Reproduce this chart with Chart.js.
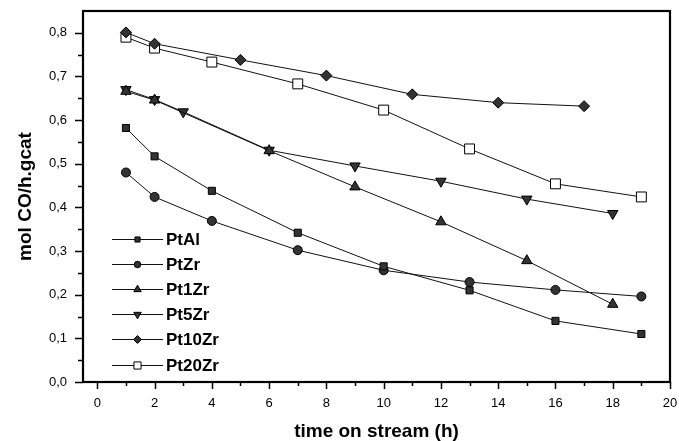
<!DOCTYPE html>
<html>
<head>
<meta charset="utf-8">
<script src="https://cdn.jsdelivr.net/npm/chart.js@4.4.1/dist/chart.umd.min.js"></script>
<style>
  html, body { margin: 0; padding: 0; background: #fff; }
  #wrap { width: 679px; height: 441px; }
</style>
</head>
<body>
<div id="wrap"><canvas id="c" width="679" height="441"></canvas></div>
<script>
// Activity versus time on stream for each catalyst
const seriesNames = ['PtAl', 'PtZr', 'Pt1Zr', 'Pt5Zr', 'Pt10Zr', 'Pt20Zr'];

const hoursPtAl   = [1, 2, 4, 7, 10, 13, 16, 19];
const ptAl        = [0.582, 0.517, 0.438, 0.342, 0.265, 0.210, 0.140, 0.110];

const hoursPtZr   = [1, 2, 4, 7, 10, 13, 16, 19];
const ptZr        = [0.480, 0.424, 0.369, 0.302, 0.256, 0.229, 0.211, 0.196];

const hoursPt1Zr  = [1, 2, 6, 9, 12, 15, 18];
const pt1Zr       = [0.666, 0.646, 0.530, 0.447, 0.367, 0.278, 0.178];

const hoursPt5Zr  = [1, 2, 3, 6, 9, 12, 15, 18];
const pt5Zr       = [0.670, 0.647, 0.619, 0.531, 0.495, 0.460, 0.419, 0.386];

const hoursPt10Zr = [1, 2, 5, 8, 11, 14, 17];
const pt10Zr      = [0.801, 0.775, 0.738, 0.702, 0.659, 0.640, 0.632];

const hoursPt20Zr = [1, 2, 4, 7, 10, 13, 16, 19];
const pt20Zr      = [0.790, 0.765, 0.733, 0.683, 0.623, 0.534, 0.454, 0.424];

const xTickValues = [0, 2, 4, 6, 8, 10, 12, 14, 16, 18, 20];
const xMinorValues = [1, 3, 5, 7, 9, 11, 13, 15, 17, 19];
const yTickValues = [0, 0.1, 0.2, 0.3, 0.4, 0.5, 0.6, 0.7, 0.8];
const yMinorValues = [0.05, 0.15, 0.25, 0.35, 0.45, 0.55, 0.65, 0.75];

const xTitle = 'time on stream (h)';
const yTitle = 'mol CO/h.gcat';

function pairs(xs, ys) { return xs.map((x, i) => ({ x: x, y: ys[i] })); }

const LINE = '#111';
const MARK = '#333';

const styles = [
  { pointStyle: 'rect',     radius: 5,   rotation: 0,   fill: MARK },
  { pointStyle: 'circle',   radius: 4.5, rotation: 0,   fill: MARK },
  { pointStyle: 'triangle', radius: 6,   rotation: 0,   fill: MARK },
  { pointStyle: 'triangle', radius: 6,   rotation: 180, fill: MARK },
  { pointStyle: 'rectRot',  radius: 5.5, rotation: 0,   fill: MARK },
  { pointStyle: 'rect',     radius: 7,   rotation: 0,   fill: '#fff' }
];

const seriesData = [
  pairs(hoursPtAl, ptAl),
  pairs(hoursPtZr, ptZr),
  pairs(hoursPt1Zr, pt1Zr),
  pairs(hoursPt5Zr, pt5Zr),
  pairs(hoursPt10Zr, pt10Zr),
  pairs(hoursPt20Zr, pt20Zr)
];

const datasets = seriesNames.map((name, i) => ({
  label: name,
  data: seriesData[i],
  borderColor: LINE,
  borderWidth: 1,
  pointStyle: styles[i].pointStyle,
  pointRadius: styles[i].radius,
  pointRotation: styles[i].rotation,
  pointBackgroundColor: styles[i].fill,
  pointBorderColor: '#000',
  pointBorderWidth: 1,
  tension: 0,
  fill: false
}));

// Frame, outward ticks (major + minor) and the inline legend
const framePlugin = {
  id: 'frameAndTicks',
  afterDraw(chart) {
    const { ctx, chartArea: a, scales: { x, y } } = chart;
    ctx.save();
    ctx.strokeStyle = '#000';
    ctx.lineWidth = 1.5;
    ctx.beginPath();
    xTickValues.forEach(v => {
      const px = Math.round(x.getPixelForValue(v)) + 0.5;
      ctx.moveTo(px, a.bottom); ctx.lineTo(px, a.bottom + 7);
    });
    xMinorValues.forEach(v => {
      const px = Math.round(x.getPixelForValue(v)) + 0.5;
      ctx.moveTo(px, a.bottom); ctx.lineTo(px, a.bottom + 4);
    });
    yTickValues.forEach(v => {
      const py = Math.round(y.getPixelForValue(v)) + 0.5;
      ctx.moveTo(a.left, py); ctx.lineTo(a.left - 8, py);
    });
    yMinorValues.forEach(v => {
      const py = Math.round(y.getPixelForValue(v)) + 0.5;
      ctx.moveTo(a.left, py); ctx.lineTo(a.left - 5, py);
    });
    ctx.stroke();

    ctx.lineWidth = 2.2;
    ctx.strokeRect(a.left, a.top, a.right - a.left, a.bottom - a.top);

    // legend: line with marker, then the series name
    const lx0 = a.left + 29, lx1 = a.left + 80, ly0 = a.top + 228, step = 25.1;
    chart.data.datasets.forEach((ds, i) => {
      const ly = Math.round(ly0 + i * step) + 0.5;
      ctx.strokeStyle = LINE;
      ctx.lineWidth = 1.2;
      ctx.beginPath();
      ctx.moveTo(lx0, ly); ctx.lineTo(lx1, ly);
      ctx.stroke();
      ctx.fillStyle = ds.pointBackgroundColor;
      ctx.strokeStyle = '#000';
      ctx.lineWidth = 1;
      Chart.helpers.drawPoint(ctx, {
        pointStyle: ds.pointStyle,
        rotation: ds.pointRotation,
        radius: ds.pointRadius * 0.72,
        borderWidth: 1
      }, (lx0 + lx1) / 2, ly);
      ctx.fillStyle = '#000';
      ctx.font = 'bold 17px "Liberation Sans", Arial, sans-serif';
      ctx.textAlign = 'left';
      ctx.textBaseline = 'middle';
      ctx.fillText(ds.label, lx1 + 3, ly + 1);
    });
    ctx.restore();
  }
};

new Chart(document.getElementById('c'), {
  type: 'line',
  data: { datasets: datasets },
  plugins: [framePlugin],
  options: {
    responsive: false,
    animation: false,
    events: [],
    layout: { padding: { top: 11, right: 9, left: 0, bottom: 0 } },
    plugins: { legend: { display: false }, tooltip: { enabled: false } },
    scales: {
      x: {
        type: 'linear',
        min: -0.5,
        max: 20,
        afterBuildTicks: s => { s.ticks = xTickValues.map(v => ({ value: v })); },
        afterFit: s => { s.height = 59; s.paddingLeft = 0; s.paddingRight = 0; },
        grid: { display: false },
        border: { display: false },
        ticks: {
          padding: 6,
          color: '#000',
          maxRotation: 0,
          autoSkip: false,
          font: { family: '"Liberation Sans", Arial, sans-serif', size: 13 },
          callback: v => String(v)
        },
        title: {
          display: true,
          text: xTitle,
          color: '#000',
          font: { family: '"Liberation Sans", Arial, sans-serif', size: 19, weight: 'bold', lineHeight: 1 },
          padding: { top: 0, bottom: 0 }
        }
      },
      y: {
        type: 'linear',
        min: 0,
        max: 0.85,
        afterBuildTicks: s => { s.ticks = yTickValues.map(v => ({ value: v })); },
        afterFit: s => { s.width = 83; s.paddingTop = 0; s.paddingBottom = 0; },
        grid: { display: false },
        border: { display: false },
        ticks: {
          padding: 8,
          color: '#000',
          autoSkip: false,
          font: { family: '"Liberation Sans", Arial, sans-serif', size: 13 },
          callback: v => v.toFixed(1).replace('.', ',')
        },
        title: {
          display: true,
          text: yTitle,
          color: '#000',
          font: { family: '"Liberation Sans", Arial, sans-serif', size: 19, weight: 'bold', lineHeight: 1 },
          padding: { top: 16, bottom: 0 }
        }
      }
    }
  }
});
</script>
</body>
</html>
